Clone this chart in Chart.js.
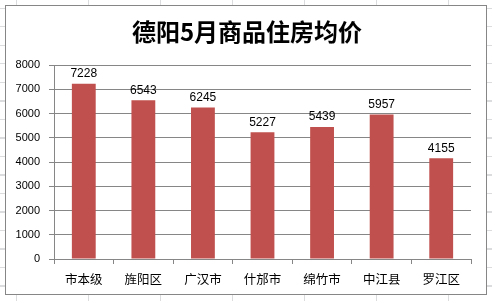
<!DOCTYPE html>
<html>
<head>
<meta charset="utf-8">
<script src="https://cdn.jsdelivr.net/npm/chart.js@4"></script>
<style>
    html, body {
        margin: 0;
        padding: 0;
        width: 492px;
        height: 301px;
        overflow: hidden;
        background-color: #fff;
        background-image:
            repeating-linear-gradient(to right, transparent 0, transparent 16px, #dadcdd 16px, #dadcdd 17px, transparent 17px, transparent 72px),
            repeating-linear-gradient(to bottom, transparent 0, transparent 8px, #dadcdd 8px, #dadcdd 9px, transparent 9px, transparent 18.5px);
    }
    #box {
        position: absolute;
        left: 5px;
        top: 5px;
        width: 480px;
        height: 288px;
        border: 1px solid #868686;
        background: #fff;
    }
</style>
</head>
<body>
<div id="box"><canvas id="chart" width="480" height="288"></canvas></div>
<script>
const districts = ["市本级", "旌阳区", "广汉市", "什邡市", "绵竹市", "中江县", "罗江区"];
const avgPrice = [7228, 6543, 6245, 5227, 5439, 5957, 4155];
const chartTitle = "德阳5月商品住房均价";

const cjkFont = "'Noto Sans CJK SC', 'Noto Sans', sans-serif";
const numFont = "'Liberation Sans', Arial, sans-serif";

// value labels above each bar + the title (Excel centres it on the whole chart box)
const valueLabels = {
    id: "valueLabels",
    afterDatasetsDraw(chart) {
        const ctx = chart.ctx;
        const meta = chart.getDatasetMeta(0);
        ctx.save();
        ctx.font = "12px " + numFont;
        ctx.fillStyle = "#000";
        ctx.textAlign = "center";
        ctx.textBaseline = "bottom";
        meta.data.forEach((bar, i) => {
            ctx.fillText(avgPrice[i], bar.x, bar.y - 4);
        });

        ctx.font = "bold 24px " + cjkFont;
        ctx.textBaseline = "middle";
        ctx.fillText(chartTitle, 241, 26);
        ctx.restore();
    }
};

const ctx = document.getElementById("chart");

const chart = new Chart(ctx, {
    type: "bar",
    data: {
        labels: districts,
        datasets: [{
            data: avgPrice,
            backgroundColor: "#c0504d",
            barPercentage: 0.4,
            categoryPercentage: 1.0
        }]
    },
    options: {
        responsive: false,
        animation: false,
        layout: {
            padding: { left: 0, right: 15, top: 59, bottom: 0 }
        },
        plugins: {
            legend: { display: false },
            tooltip: { enabled: false },
            title: { display: false }
        },
        scales: {
            x: {
                offset: true,
                grid: {
                    offset: true,
                    drawOnChartArea: false,
                    color: "#868686",
                    tickLength: 5
                },
                border: { color: "#868686" },
                ticks: {
                    color: "#000",
                    font: { family: cjkFont, size: 12.5 },
                    padding: 8,
                    maxRotation: 0
                },
                afterFit(scale) {
                    scale.height = 35;
                }
            },
            y: {
                min: 0,
                max: 8000,
                grid: {
                    color: "#868686",
                    tickLength: 5
                },
                border: { color: "#868686" },
                ticks: {
                    stepSize: 1000,
                    color: "#000",
                    font: { family: numFont, size: 11 },
                    padding: 9,
                    callback: v => String(v)
                },
                afterFit(scale) {
                    scale.width = 48;
                }
            }
        }
    },
    plugins: [valueLabels]
});
</script>
</body>
</html>
